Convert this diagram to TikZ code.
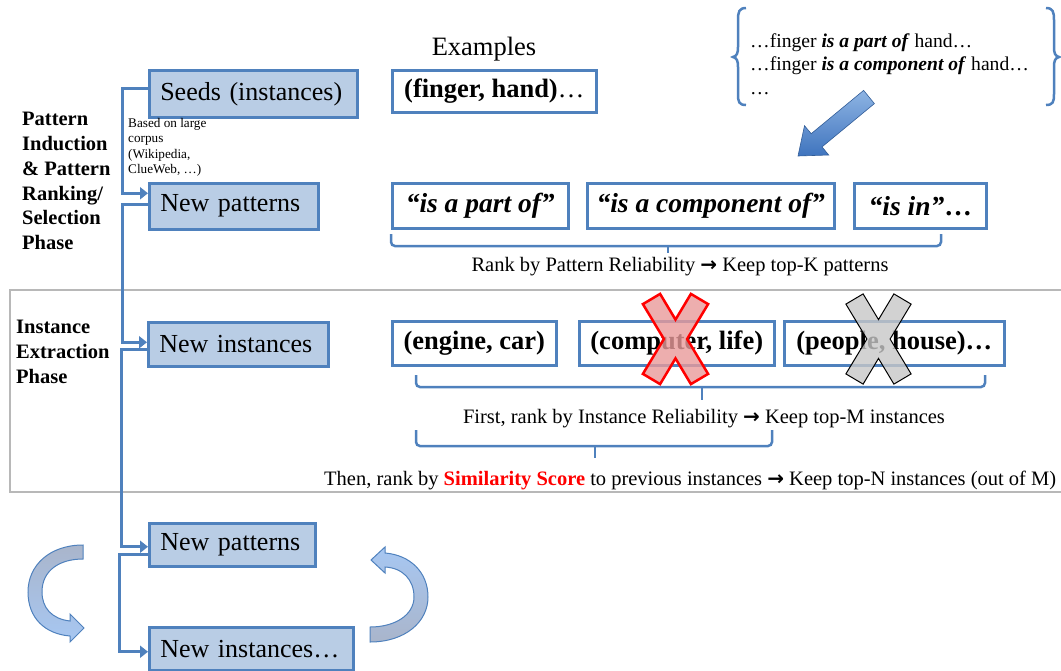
\documentclass[tikz,border=0pt]{standalone}
\usepackage{fontspec}
\setmainfont{Liberation Serif}
\newfontfamily\arrfont{DejaVu Sans}
\newcommand\rarr{{\arrfont\bfseries\fontsize{20}{22}\selectfont →}}
\usetikzlibrary{arrows.meta,calc}
\definecolor{bluebord}{HTML}{4F81BD}
\definecolor{bluefill}{HTML}{B9CDE5}
\definecolor{ribgray}{HTML}{A9B5CB}
\definecolor{ribblue}{HTML}{A7C7F2}
\definecolor{blkA}{HTML}{8EB4E3}
\definecolor{blkB}{HTML}{3F74BE}
\definecolor{redfill}{HTML}{E99A9A}
\begin{document}
\begin{tikzpicture}[x=1pt,y=-1pt,
  bbox/.style={draw=bluebord, fill=bluefill, line width=2.5pt, inner sep=0pt, anchor=north west,
    align=left, font=\fontsize{26}{30}\selectfont},
  wbox/.style={draw=bluebord, fill=white, line width=2.5pt, inner sep=0pt, anchor=north west,
    font=\fontsize{26.5}{30}\selectfont\bfseries},
  conn/.style={draw=bluebord, line width=3pt},
  arr/.style={conn, -{Triangle[length=8pt,width=12pt]}},
  brace/.style={draw=bluebord, line width=2.5pt, rounded corners=4pt},
  phase/.style={font=\fontsize{20.5}{24.8}\selectfont\bfseries, align=left, anchor=north west, inner sep=0pt},
  plain/.style={font=\fontsize{20.5}{24}\selectfont, inner sep=0pt},
  bigx/.pic={\path[pic actions] (-32.6,-34.9) -- (-15.4,-45.1) -- (0,-19.4) -- (15.4,-45.1) -- (32.6,-34.9)
     -- (11.6,0) -- (32.6,34.9) -- (15.4,45.1) -- (0,19.4) -- (-15.4,45.1) -- (-32.6,34.9) -- (-11.6,0) -- cycle;}
]
\useasboundingbox (0,0) rectangle (1061,670);
\clip (0,0) rectangle (1061,670);

% instance extraction frame
\draw[black!28, line width=1.3pt] (10,290) rectangle (1075,492);

% braces under rows
\draw[brace] (391,234) |- (941,246) -- (941,234);
\draw[brace] (668,246) -- (668,253);
\draw[brace] (416,375) |- (985,387) -- (985,375);
\draw[brace] (702,387) -- (702,400);
\draw[brace] (416,430) |- (772,446) -- (772,430);
\draw[brace] (595,446) -- (595,458);

% left column boxes
\node[bbox, minimum width=208, minimum height=47, text width=186] (seeds) at (148,69) {Seeds (instances)};
\node[bbox, minimum width=169, minimum height=46, text width=147] (np1) at (148,182) {New patterns};
\node[bbox, minimum width=180, minimum height=44, text width=158] (ni1) at (147,321) {New instances};
\node[bbox, minimum width=166, minimum height=43, text width=144] (np2) at (148,522) {New patterns};
\node[bbox, minimum width=204, minimum height=43, text width=182] (ni2) at (148,626) {New instances…};

% connectors
\draw[arr] ($(seeds.west)+(0,-5)$) -- ++(-26,0) |- ($(np1.west)+(0,-13)$);
\draw[arr] ($(np1.west)+(0,-2)$) -- ++(-26,0) |- ($(ni1.west)+(0,-2)$);
\draw[arr] ($(ni1.west)+(0,5)$) -- ++(-26,0) |- ($(np2.west)+(0,2)$);
\draw[arr] ($(np2.west)+(0,10)$) -- ++(-29,0) |- ($(ni2.west)+(0,3)$);

% phase labels
\node[phase] (ph1) at (22,112) {Pattern\\Induction\\\& Pattern\\Ranking/\\Selection\\Phase};
\node[phase] (ph2) at (16,320) {Instance\\Extraction\\Phase};
\node[font=\fontsize{13.2}{15.5}\selectfont, align=left, anchor=north west, inner sep=0pt] (corpus)
  at (128,118) {Based on large\\corpus\\(Wikipedia,\\ClueWeb, …)};

% examples
\node[font=\fontsize{26.5}{30}\selectfont, inner sep=0pt] (exlab) at (484,49) {Examples};
\node[wbox, minimum width=204, minimum height=42] (ex) at (391,69) {(finger, hand)\mdseries…};

% pattern boxes
\node[wbox, minimum width=176, minimum height=45] (p1) at (391,182) {\fontsize{27.5}{30}\selectfont\itshape “is a part of”};
\node[wbox, minimum width=247, minimum height=45] (p2) at (586,182) {\fontsize{27.5}{30}\selectfont\itshape “is a component of”};
\node[wbox, minimum width=132, minimum height=45] (p3) at (853,182) {\fontsize{27.5}{30}\selectfont{\itshape “is in”}…};
\node[plain] (rank1) at (680,267) {Rank by Pattern Reliability \rarr{} Keep top-K patterns};

% instance boxes
\node[wbox, minimum width=164, minimum height=44] (i1) at (391,320) {(engine, car)};
\node[wbox, minimum width=195, minimum height=44] (i2) at (578,320) {(computer, life)};
\node[wbox, minimum width=220, minimum height=44] (i3) at (783,320) {(people, house)…};
\node[plain] (rank2) at (704,419) {First, rank by Instance Reliability \rarr{} Keep top-M instances};
\node[plain, anchor=west] (rank3) at (324,480) {Then, rank by \textcolor{red}{\bfseries Similarity Score} to previous instances \rarr{} Keep top-N instances (out of M)};

% crosses
\pic[draw=red, fill=redfill, fill opacity=0.8, line width=2.5pt] at (675.5,339) {bigx};
\pic[draw=black, fill=black!22, fill opacity=0.8, line width=1pt] at (878.5,339) {bigx};

% context text with braces
\node[font=\fontsize{19.6}{23.5}\selectfont, align=left, anchor=north west, inner sep=0pt] (ctx) at (750,33)
  {…finger \textbf{\textit{is a part of}} hand…\\…finger \textbf{\textit{is a component of}} hand…\\…};
\draw[bluebord, line width=2.5pt] (746,8) .. controls (739,8) and (738,12) .. (738,20) -- (738,47)
  .. controls (738,53) and (737,56) .. (733,57) .. controls (737,58) and (738,61) .. (738,67) -- (738,94)
  .. controls (738,102) and (739,105) .. (746,105);
\draw[bluebord, line width=2.5pt] (1046,8) .. controls (1053,8) and (1054,12) .. (1054,20) -- (1054,47)
  .. controls (1054,53) and (1055,56) .. (1059,57) .. controls (1055,58) and (1054,61) .. (1054,67) -- (1054,94)
  .. controls (1054,102) and (1053,105) .. (1046,105);

% block arrow
\shade[top color=blkA, bottom color=blkB, draw=blkB!80!black, line width=0.6pt]
  (863.6,90.4) -- (811.2,133.7) -- (804.5,125.7) -- (798,156) -- (828.7,155) -- (822,146.9) -- (874.4,103.6) -- cycle;

% cycle arrows
\shade[top color=ribgray, bottom color=ribblue, draw=bluebord, line width=1pt]
  (83,545) .. controls (50,545) and (28,565) .. (28,592)
  .. controls (28,618) and (45,634) .. (70,636)
  -- (70,642) -- (84,628) -- (70,614) -- (70,621)
  .. controls (52,619) and (42,608) .. (42,592)
  .. controls (42,570) and (60,559) .. (83,559) -- cycle;
\shade[top color=ribblue, bottom color=ribgray, draw=bluebord, line width=1pt]
  (370,642) .. controls (405,642) and (428,622) .. (428,597)
  .. controls (428,572) and (410,555) .. (385,553)
  -- (385,547) -- (371,560) -- (385,573) -- (385,567)
  .. controls (403,568) and (414,580) .. (414,597)
  .. controls (414,615) and (395,627) .. (370,627) -- cycle;
\end{tikzpicture}
\end{document}
